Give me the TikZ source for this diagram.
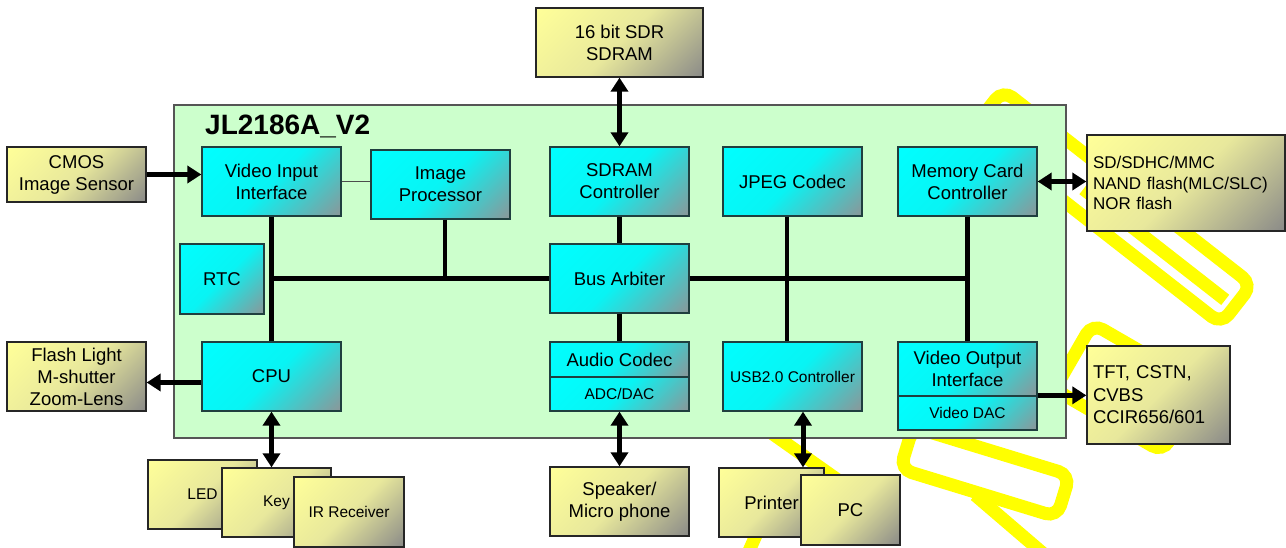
\documentclass[tikz,border=0pt]{standalone}
\usepackage{fontspec}
\setmainfont{Liberation Sans}
\usetikzlibrary{arrows.meta}
\definecolor{chipgreen}{HTML}{CCFFCC}
\definecolor{chipline}{HTML}{555555}
\definecolor{boxline}{HTML}{1F3F3F}
\definecolor{cygrey}{RGB}{140,150,152}
\definecolor{cymid}{HTML}{08F4F4}
\definecolor{yl}{HTML}{FFFF99}
\definecolor{ymid}{HTML}{E8E89C}
\definecolor{ygrey}{RGB}{138,138,136}
\definecolor{wmyellow}{HTML}{FFFF00}
\pgfdeclareverticalshading{cyanshade}{100bp}{color(0bp)=(cygrey); color(14.6bp)=(cygrey); color(50bp)=(cymid); color(85.4bp)=(cyan); color(100bp)=(cyan)}
\pgfdeclareverticalshading{yelshade}{100bp}{color(0bp)=(ygrey); color(14.6bp)=(ygrey); color(50bp)=(ymid); color(85.4bp)=(yl); color(100bp)=(yl)}
\newcommand\fsMain{\fontsize{18.5}{22}\selectfont}
\newcommand\fsSmall{\fontsize{15.5}{18}\selectfont}
\newcommand\fsList{\fontsize{17}{20.5}\selectfont}
\newcommand\fsTitle{\fontsize{28}{32}\selectfont\bfseries}
\begin{document}
\begin{tikzpicture}[x=1pt,y=-1pt,
  cbox/.style={draw=boxline, line width=1.3pt, shading=cyanshade, shading angle=45, inner sep=0pt, align=center, font=\fsMain},
  ybox/.style={draw=black!85, line width=1.3pt, shading=yelshade, shading angle=45, inner sep=0pt, align=center, font=\fsMain},
  chip/.style={draw=chipline, line width=1.3pt, fill=chipgreen, inner sep=0pt},
  bus/.style={line width=4.5pt},
  thin/.style={line width=0.8pt, draw=black!70},
  arr/.style={line width=5pt, -{Triangle[length=14pt,width=17pt]}},
  darr/.style={line width=5pt, {Triangle[length=14pt,width=17pt]}-{Triangle[length=14pt,width=17pt]}},
  wm/.style={draw=wmyellow, line width=13pt, rounded corners=12pt}]
\useasboundingbox (0,0) rectangle (1286,548);
% watermark
\draw[wm, rotate around={-38:(1112,207)}] (954,182) rectangle (1270,232);
\draw[wm, rotate around={-38:(1150,250)}] (1060,243) -- (1240,243);
\draw[wm, rotate around={-30:(1128,388)}] (1065,350) rectangle (1190,426);
\draw[wm, rotate around={-17:(985,472)}] (903,450) rectangle (1067,494);
\draw[wm] (770,432) -- (845,485);
\draw[wm] (745,560) -- (765,515);
\draw[wm] (975,495) -- (1045,555);
% chip
\node[chip, minimum width=892pt, minimum height=333pt] (chip) at (620,271.5) {};
\node[anchor=base west, font=\fsTitle, inner sep=0pt] (title) at (205,135) {JL2186A\_V2};
% internal blocks
\node[cbox, minimum width=139pt, minimum height=69pt] (vii) at (271.5,181.5) {Video Input\\Interface};
\node[cbox, minimum width=139pt, minimum height=69pt] (ip) at (440.5,184.5) {Image\\Processor};
\node[cbox, minimum width=139pt, minimum height=69pt] (sdc) at (619.5,181.5) {SDRAM\\Controller};
\node[cbox, minimum width=139pt, minimum height=69pt] (jpeg) at (792.5,181.5) {JPEG Codec};
\node[cbox, minimum width=139pt, minimum height=69pt] (mcc) at (967.5,181.5) {Memory Card\\Controller};
\node[cbox, minimum width=84pt, minimum height=70pt] (rtc) at (222,279) {RTC};
\node[cbox, minimum width=139pt, minimum height=69pt] (arb) at (619.5,278.5) {Bus Arbiter};
\node[cbox, minimum width=139pt, minimum height=69pt] (cpu) at (271.5,376.5) {CPU};
\node[cbox, minimum width=139pt, minimum height=35pt] (audio) at (619.5,359.5) {Audio Codec};
\node[cbox, minimum width=139pt, minimum height=34pt, font=\fsSmall] (adc) at (619.5,394) {ADC/DAC};
\node[cbox, minimum width=139pt, minimum height=69pt, font=\fsSmall] (usb) at (792.5,376.5) {USB2.0 Controller};
\node[cbox, minimum width=139pt, minimum height=54pt] (vo) at (967.5,369) {Video Output\\Interface};
\node[cbox, minimum width=139pt, minimum height=34pt, font=\fsSmall] (vdac) at (967.5,413) {Video DAC};
% external blocks
\node[ybox, minimum width=167pt, minimum height=69pt] (sdram) at (619.5,42.5) {16 bit SDR\\SDRAM};
\node[ybox, minimum width=139pt, minimum height=55pt] (cmos) at (76.5,174.5) {CMOS\\Image Sensor};
\node[ybox, minimum width=139pt, minimum height=69pt] (flash) at (76.5,376.5) {Flash Light\\M-shutter\\Zoom-Lens};
\node[ybox, minimum width=198pt, minimum height=96pt, text width=186pt, align=left, font=\fsList] (sd) at (1186,183) {SD/SDHC/MMC\\NAND flash(MLC/SLC)\\NOR flash};
\node[ybox, minimum width=143pt, minimum height=98pt, text width=131pt, align=left, font={\fontsize{18.5}{22.5}\selectfont}] (tft) at (1158.5,395) {TFT, CSTN,\\CVBS\\CCIR656/601};
\node[ybox, minimum width=109pt, minimum height=69pt, font=\fsSmall] (led) at (202.5,494.5) {LED};
\node[ybox, minimum width=109pt, minimum height=69pt, font=\fsSmall] (key) at (276.5,502.5) {Key};
\node[ybox, minimum width=110pt, minimum height=70pt, font=\fsSmall] (ir) at (349,512) {IR Receiver};
\node[ybox, minimum width=139pt, minimum height=69pt] (spk) at (619.5,501.5) {Speaker/\\Micro phone};
\node[ybox, minimum width=105pt, minimum height=69pt] (printer) at (771.5,502.5) {Printer};
\node[ybox, minimum width=99pt, minimum height=70pt] (pc) at (850.5,510) {PC};
% internal connections
\draw[thin] (vii.east) -- (ip.west |- vii.east);
\coordinate (ipb) at ([xshift=4.5pt]ip.south);
\coordinate (jpb) at ([xshift=-5.5pt]jpeg.south);
\draw[bus] (vii.south) -- (cpu.north);
\draw[bus] (vii.south |- arb.west) -- (arb.west);
\draw[bus] (arb.east) -- (mcc.south |- arb.east);
\draw[bus] (ipb) -- (ipb |- arb.west);
\draw[bus] (sdc.south) -- (arb.north);
\draw[bus] (jpb) -- (jpb |- usb.north);
\draw[bus] (mcc.south) -- (vo.north);
\draw[bus] (arb.south) -- (audio.north);
% external connections
\draw[arr] (cmos.east) -- (vii.west |- cmos.east);
\draw[darr] (sdram.south) -- (sdc.north);
\draw[darr] (mcc.east) -- (sd.west |- mcc.east);
\draw[arr] ([yshift=-6pt]cpu.west) -- ([yshift=-6pt]flash.east);
\draw[darr] (cpu.south) -- (cpu.south |- key.north);
\draw[darr] (adc.south) -- (spk.north);
\coordinate (ub) at ([xshift=10.5pt]usb.south);
\draw[darr] (ub) -- (ub |- printer.north);
\draw[arr] (vdac.north east) -- (tft.west |- vdac.north east);
\end{tikzpicture}
\end{document}
